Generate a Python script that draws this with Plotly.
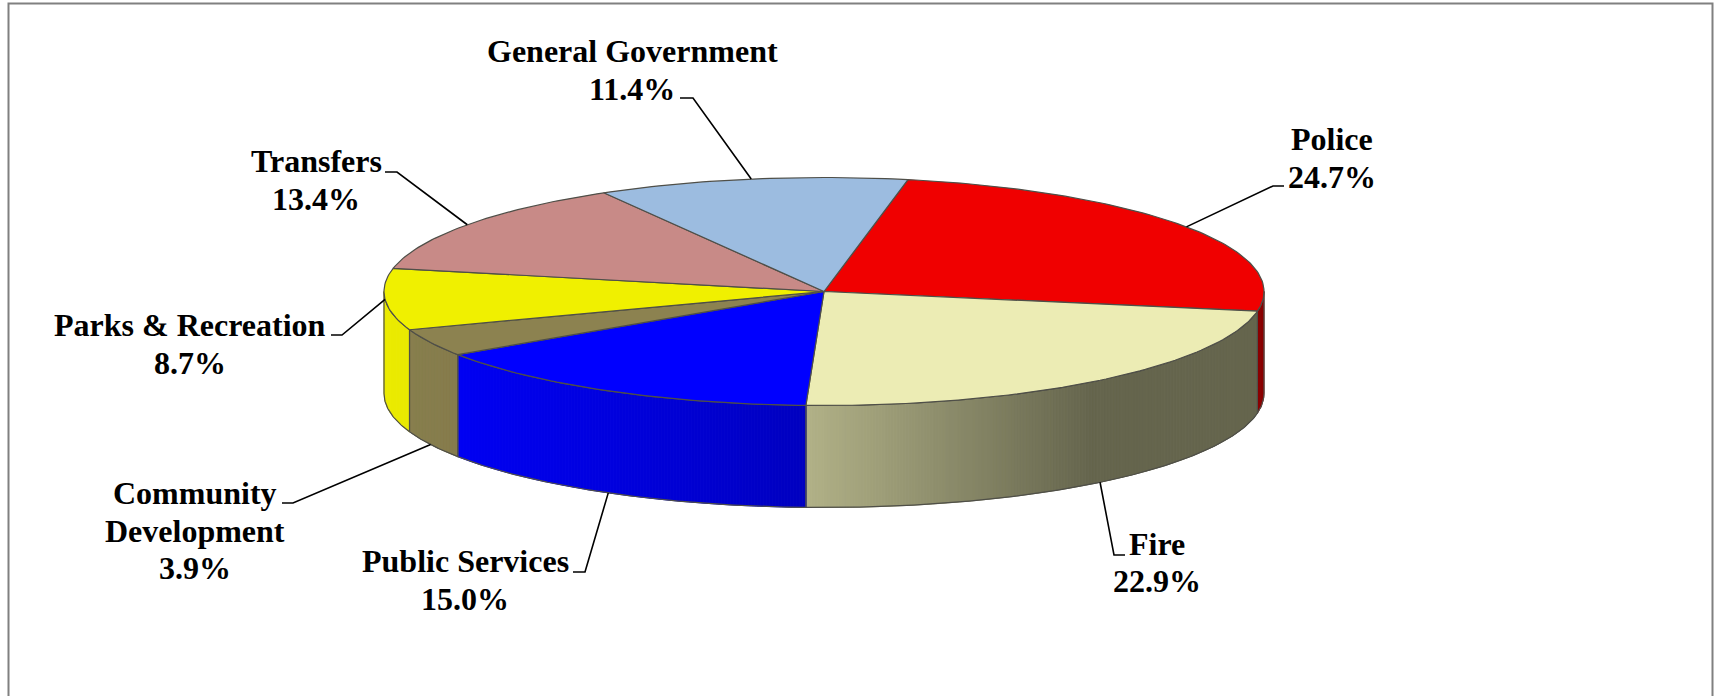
import math
import plotly.graph_objects as go

# Budget shares, clockwise from the top of the pie
categories = ["Police", "Fire", "Public Services", "Community Development",
              "Parks & Recreation", "Transfers", "General Government"]
shares = [24.7, 22.9, 15.0, 3.9, 8.7, 13.4, 11.4]
share_labels = ["24.7%", "22.9%", "15.0%", "3.9%", "8.7%", "13.4%", "11.4%"]
top_colors = ["#F00000", "#ECECB4", "#0000FF", "#8C8250", "#F0F000", "#C88A87", "#9CBCE0"]

# Pie geometry in page pixels
CX, CY, RX, RY, DEPTH = 824.0, 291.5, 440.0, 114.0, 102.0
START_ANGLE = 11.0
EDGE = "#4f4f48"
BAND_PX = 3.0

# Brightness of the wall as a function of horizontal position
SHADE_STOPS = [(384, 0.98), (458, 0.95), (630, 0.86), (807, 0.75), (1090, 0.43), (1264, 0.43)]

# Label text placement: (centre x, y of each text line)
LABEL_LINES = {
    "Police": (1332, [("Police", 139), ("24.7%", 177)]),
    "Fire": (1157, [("Fire", 544), ("22.9%", 581)]),
    "Public Services": (465, [("Public Services", 561), ("15.0%", 599)]),
    "Community Development": (195, [("Community", 493), ("Development", 531), ("3.9%", 568)]),
    "Parks & Recreation": (190, [("Parks & Recreation", 325), ("8.7%", 363)]),
    "Transfers": (316, [("Transfers", 161), ("13.4%", 199)]),
    "General Government": (632, [("General Government", 51), ("11.4%", 89)]),
}
# Leader-line stubs next to the labels: (outer end, elbow)
LEADER_STUBS = {
    "Police": ((1284, 186), (1273, 186)),
    "Fire": ((1125, 555), (1114, 555)),
    "Public Services": ((573, 572), (585, 572)),
    "Community Development": ((282, 503), (293, 503)),
    "Parks & Recreation": ((331, 335), (342, 335)),
    "Transfers": ((385, 172), (397, 172)),
    "General Government": ((680, 98), (693, 98)),
}


def rim(angle, drop=0.0):
    rad = math.radians(angle)
    return CX + RX * math.sin(rad), CY - RY * math.cos(rad) + drop


def arc(a0, a1, drop=0.0, step=1.0):
    n = max(2, int(abs(a1 - a0) / step) + 1)
    return [rim(a0 + (a1 - a0) * i / (n - 1), drop) for i in range(n)]


def shade_at(x):
    for (x0, s0), (x1, s1) in zip(SHADE_STOPS, SHADE_STOPS[1:]):
        if x <= x1:
            return s0 + (s1 - s0) * (x - x0) / (x1 - x0)
    return SHADE_STOPS[-1][1]


def scaled(hex_color, factor):
    r, g, b = (int(hex_color[i:i + 2], 16) for i in (1, 3, 5))
    return f"rgb({r * factor:.0f},{g * factor:.0f},{b * factor:.0f})"


def polygon(points, fill, line_color, line_width):
    xs, ys = zip(*points)
    return go.Scatter(x=list(xs) + [xs[0]], y=list(ys) + [ys[0]], mode="lines", fill="toself",
                      fillcolor=fill, line=dict(color=line_color, width=line_width),
                      hoverinfo="skip", showlegend=False)


def to_angle(x):
    # Rim angle on the front half for a horizontal position
    return 180.0 - math.degrees(math.asin(max(-1.0, min(1.0, (x - CX) / RX))))


# Angular extent of each slice, taken from its share
bounds = []
angle = START_ANGLE
for share in shares:
    bounds.append((angle, angle + share * 3.6))
    angle += share * 3.6

fig = go.Figure()

# Side walls: only the front half of the rim is visible
for (a0, a1), color, name in zip(bounds, top_colors, categories):
    lo, hi = max(a0, 90.0), min(a1, 270.0)
    if lo >= hi:
        continue
    x_lo, x_hi = rim(lo)[0], rim(hi)[0]
    bands = max(1, int(abs(x_hi - x_lo) / BAND_PX))
    # Equal-width vertical bands, converted back to rim angles
    edges = [x_lo + (x_hi - x_lo) * i / bands for i in range(bands + 1)]
    wall_factor = 0.58 if name == "Police" else None
    for x0, x1 in zip(edges, edges[1:]):
        b0, b1 = to_angle(x0), to_angle(x1)
        f = wall_factor if wall_factor else shade_at((x0 + x1) / 2)
        band_color = scaled(color, f)
        points = arc(b0, b1, 0.0, 0.5) + arc(b1, b0, DEPTH, 0.5)
        fig.add_trace(polygon(points, band_color, band_color, 1))
    # Wall outline
    fig.add_trace(polygon(arc(lo, hi, 0.0, 0.5) + arc(hi, lo, DEPTH, 0.5), "rgba(0,0,0,0)", EDGE, 1.2))

# Top face wedges
for (a0, a1), color in zip(bounds, top_colors):
    fig.add_trace(polygon([(CX, CY)] + arc(a0, a1), color, EDGE, 1.2))

# Leader lines run from the stub to the middle of the slice's rim
for (a0, a1), name in zip(bounds, categories):
    mid = (a0 + a1) / 2
    end = rim(mid, DEPTH if 90 < mid < 255 else 0.0)
    (sx, sy), (ex, ey) = LEADER_STUBS[name]
    fig.add_trace(go.Scatter(x=[sx, ex, end[0]], y=[sy, ey, end[1]], mode="lines",
                             line=dict(color="#000000", width=1.6),
                             hoverinfo="skip", showlegend=False))

annotations = []
for name in categories:
    centre, lines = LABEL_LINES[name]
    for text, y in lines:
        annotations.append(dict(x=centre, y=y, xref="x", yref="y", text=f"<b>{text}</b>",
                                showarrow=False, xanchor="center", yanchor="middle",
                                font=dict(family="Liberation Serif", size=32, color="#000000")))

fig.update_layout(
    width=1716, height=696, autosize=False,
    margin=dict(l=0, r=0, t=0, b=0),
    paper_bgcolor="#FFFFFF", plot_bgcolor="#FFFFFF",
    xaxis=dict(range=[0, 1716], visible=False, fixedrange=True),
    yaxis=dict(range=[696, 0], visible=False, fixedrange=True),
    annotations=annotations,
    shapes=[dict(type="rect", xref="x", yref="y", x0=8.5, y0=3.5, x1=1712.5, y1=720,
                 line=dict(color="#808080", width=2), fillcolor="rgba(0,0,0,0)", layer="below")],
    showlegend=False,
)

fig.write_html("out.html")
